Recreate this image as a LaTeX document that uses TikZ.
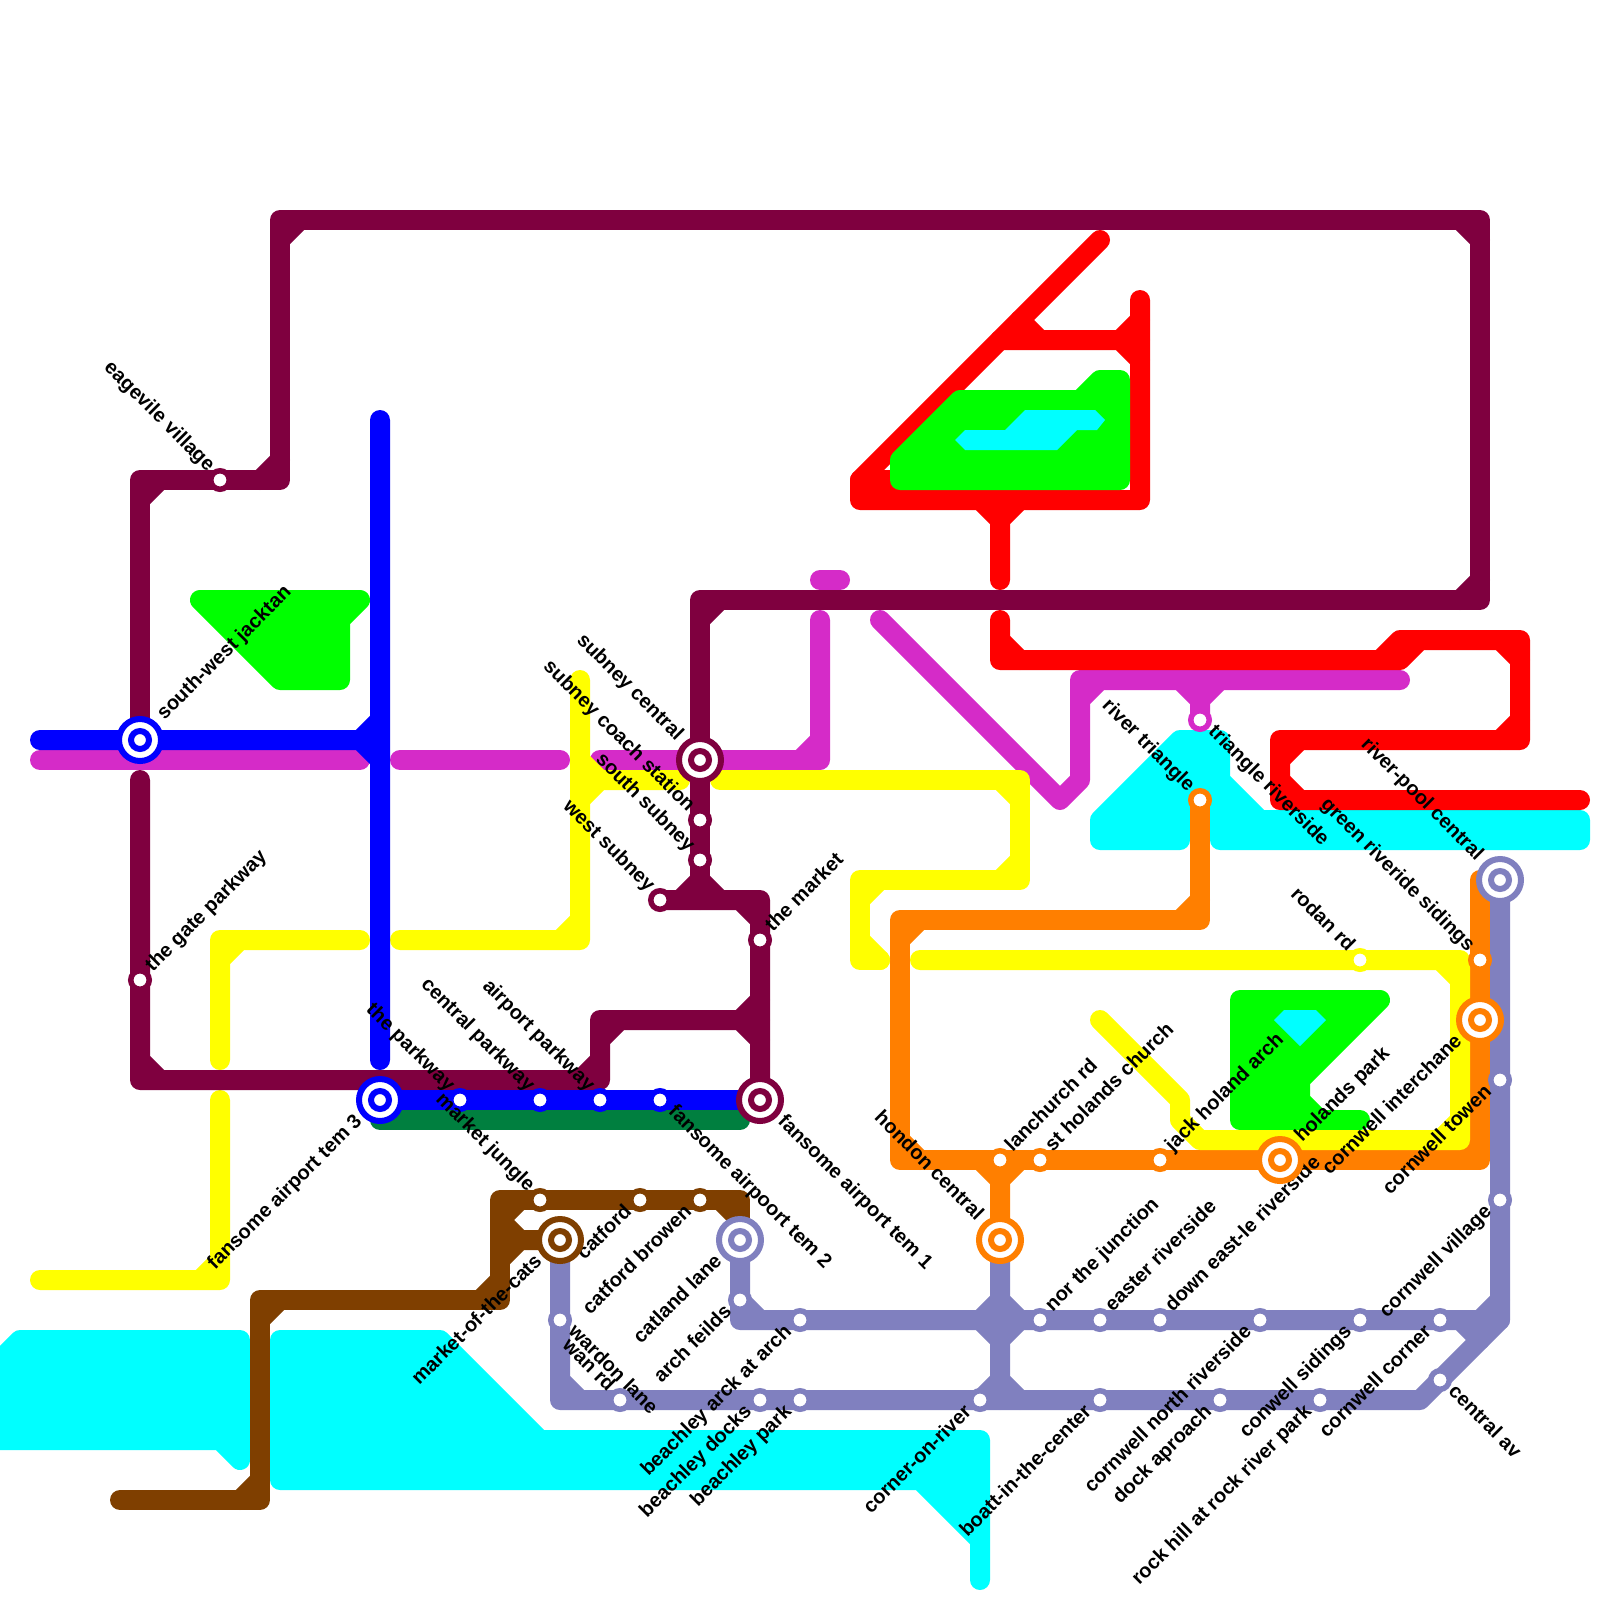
\documentclass[tikz,border=0pt]{standalone}
\usepackage{fontspec}
\setmainfont{Liberation Sans}
\definecolor{maroonln}{HTML}{7F003F}
\definecolor{magentaln}{HTML}{D52BC8}
\definecolor{brownln}{HTML}{7F3F00}
\definecolor{orangeln}{HTML}{FF7F00}
\definecolor{periln}{HTML}{8080BF}
\definecolor{dkgreenln}{HTML}{007F3F}
\definecolor{redln}{HTML}{FF0000}
\definecolor{blueln}{HTML}{0000FF}
\definecolor{yellowln}{HTML}{FFFF00}
\definecolor{riverc}{HTML}{00FFFF}
\definecolor{parkc}{HTML}{00FF00}
\tikzset{
  metroline/.style={line width=0.5cm, line cap=round, line join=round},
  area/.style={fill=#1, draw=#1, line width=0.5cm, line join=round},
  stopdot/.style={circle, fill=white, draw=#1, line width=0.1375cm, minimum size=0.4625cm, inner sep=0pt, outer sep=0pt},
  hubout/.style={circle, fill=white, draw=#1, line width=0.15cm, minimum size=1.05cm, inner sep=0pt, outer sep=0pt},
  hubin/.style={circle, fill=white, draw=#1, line width=0.15cm, minimum size=0.45cm, inner sep=0pt, outer sep=0pt},
  stoptext/.style={font=\fontsize{14.23}{16}\selectfont\bfseries, text=black, inner ysep=0pt, inner xsep=0.36cm, outer sep=0pt, text height=0.74em, text depth=0.21em},
  lblur/.style={stoptext, rotate=45, anchor=west},
  lbldr/.style={stoptext, rotate=-45, anchor=west},
  lblul/.style={stoptext, rotate=-45, anchor=east},
  lbldl/.style={stoptext, rotate=45, anchor=east},
}
\begin{document}
\begin{tikzpicture}[x=0.5cm, y=-0.5cm]
  \useasboundingbox (0,0) rectangle (80,80);
  \clip (0,0) rectangle (80,80);

  % 川
  \path[area=riverc] (1,67) -- (12,67) -- (12,73) -- (11,72) -- (-1,72) -- (-1,69) -- cycle;
  \path[area=riverc] (14,67) -- (22,67) -- (27,72) -- (49,72) -- (49,79) -- (49,77) -- (46,74) -- (14,74) -- cycle;
  \path[area=riverc] (55,41) -- (59,37) -- (61,37) -- (61,39) -- (63,41) -- (79,41) -- (79,42) -- (61,42) -- (61,40) -- (59,40) -- (59,42) -- (55,42) -- cycle;

  % マゼンタ線
  \draw[metroline, magentaln] (2,38) -- (18,38);
  \draw[metroline, magentaln] (20,38) -- (28,38);
  \draw[metroline, magentaln] (30,38) -- (41,38) -- (41,31) (40,38) -- (41,37);
  \draw[metroline, magentaln] (41,29) -- (42,29);
  \draw[metroline, magentaln] (44,31) -- (53,40) -- (54,39) -- (54,34) -- (70,34) (54,35) -- (55,34);
  \draw[metroline, magentaln] (60,34) -- (60,36) (59,34) -- (60,35) -- (61,34);

  % 緑の線
  \draw[metroline, dkgreenln] (19,56) -- (37,56);

  % 赤線
  \draw[metroline, redln] (55,12) -- (43,24) -- (43,25) -- (57,25) -- (57,15);
  \fill[redln] (43,24) rectangle (45,25);
  \draw[metroline, redln] (43,24) -- (45,24);
  \draw[metroline, redln] (50,17) -- (57,17) (51,16) -- (52,17) (56,17) -- (57,16) (56,17) -- (57,18);
  \draw[metroline, redln] (50,25) -- (50,29) (49,25) -- (50,26) -- (51,25);
  \draw[metroline, redln] (50,31) -- (50,33) -- (70,33) -- (71,32) (69,33) -- (70,32) -- (76,32) -- (76,37) -- (64,37) -- (64,40) -- (79,40);
  \draw[metroline, redln] (50,32) -- (51,33) (75,32) -- (76,33) (76,36) -- (75,37) (65,37) -- (64,38) (64,39) -- (65,40);

  % 公園
  \path[area=parkc] (10,30) -- (18,30) -- (17,31) -- (17,34) -- (14,34) -- cycle;
  \path[area=parkc] (45,24) -- (56,24) -- (56,19) -- (55,19) -- (54,20) -- (48,20) -- (45,23) -- cycle;
  \path[area=parkc] (62,50) -- (69,50) -- (65,54) -- (65,55) -- (66,56) -- (68,56) -- (62,56) -- cycle;

  % 公園の中の池
  \fill[riverc] (47.75,22) -- (48.25,21.5) -- (50.25,21.5) -- (51.25,20.5) -- (54.75,20.5) -- (55.25,21) -- (54.85,21.5) -- (53.85,21.5) -- (52.85,22.5) -- (48.25,22.5) -- cycle;
  \fill[riverc] (63.7,51) -- (64.2,50.5) -- (65.8,50.5) -- (66.3,51) -- (65,52.3) -- cycle;

  % 茶色線
  \draw[metroline, brownln] (6,75) -- (13,75) -- (13,65) -- (25,65) -- (25,60) -- (37,60) -- (37,62);
  \draw[metroline, brownln] (12,75) -- (13,74) (13,66) -- (14,65) (24,65) -- (25,64) (36,60) -- (37,61);
  \draw[metroline, brownln] (25,62) -- (28,62) (26,60) -- (25,61) -- (26,62) -- (25,63);

  % オレンジ線
  \draw[metroline, orangeln] (60,40) -- (60,46) -- (45,46) -- (45,58) -- (74,58) -- (74,44);
  \draw[metroline, orangeln] (59,46) -- (60,45) (45,47) -- (46,46) (45,57) -- (46,58) (73,58) -- (74,57);
  \draw[metroline, orangeln] (50,58) -- (50,62) (49,58) -- (50,59) -- (51,58);

  % 黄色線
  \draw[metroline, yellowln] (2,64) -- (11,64) -- (11,55) (10,64) -- (11,63);
  \draw[metroline, yellowln] (11,53) -- (11,47) -- (18,47) (11,48) -- (12,47);
  \draw[metroline, yellowln] (20,47) -- (29,47) -- (29,34) (28,47) -- (29,46);
  \draw[metroline, yellowln] (29,39) -- (34,39) (29,40) -- (30,39) -- (29,38);
  \draw[metroline, yellowln] (36,39) -- (51,39) -- (51,44) -- (43,44) -- (43,48) -- (44,48);
  \draw[metroline, yellowln] (50,39) -- (51,40) (51,43) -- (50,44) (44,44) -- (43,45) (43,47) -- (44,48);
  \draw[metroline, yellowln] (46,48) -- (73,48) -- (73,57) -- (60,57) -- (59,56) -- (59,55) -- (55,51);
  \draw[metroline, yellowln] (72,48) -- (73,49) (73,56) -- (72,57);

  % 紫線
  \draw[metroline, periln] (75,44) -- (75,66) -- (71,70) -- (28,70) -- (28,62) (28,69) -- (29,70);
  \draw[metroline, periln] (37,62) -- (37,66) -- (75,66) (37,65) -- (38,66) (74,66) -- (75,65) (73,66) -- (74,67);
  \draw[metroline, periln] (50,62) -- (50,70) (49,66) -- (50,65) -- (51,66) -- (50,67) -- (49,66) (49,70) -- (50,69) -- (51,70);

  % 栗色線
  \draw[metroline, maroonln] (7,37) -- (7,24) -- (14,24) -- (14,11) -- (74,11) -- (74,30) -- (35,30) -- (35,45);
  \draw[metroline, maroonln] (7,25) -- (8,24) (13,24) -- (14,23) (14,12) -- (15,11) (73,11) -- (74,12) (74,29) -- (73,30) (36,30) -- (35,31);
  \draw[metroline, maroonln] (33,45) -- (38,45) -- (38,55) (34,45) -- (35,44) -- (36,45) (37,45) -- (38,46);
  \draw[metroline, maroonln] (38,51) -- (30,51) -- (30,54) -- (7,54) -- (7,39) (38,50) -- (37,51) -- (38,52) (30,52) -- (31,51) (29,54) -- (30,53) (7,53) -- (8,54);

  % 青線
  \draw[metroline, blueln] (2,37) -- (19,37) (19,21) -- (19,53) (18,37) -- (19,36) (18,37) -- (19,38);
  \draw[metroline, blueln] (19,55) -- (38,55);

  % 小さい駅
  \foreach \col/\cx/\cy/\pos/\txt in {
    maroonln/11/24/lblul/eagevile village,
    maroonln/7/49/lblur/the gate parkway,
    maroonln/35/41/lblul/subney coach station,
    maroonln/35/43/lblul/south subney,
    maroonln/33/45/lblul/west subney,
    maroonln/38/47/lblur/the market,
    blueln/23/55/lblul/the parkway,
    blueln/27/55/lblul/central parkway,
    blueln/30/55/lblul/airport parkway,
    blueln/33/55/lbldr/fansome airpoort tem 2,
    brownln/27/60/lblul/market jungle,
    brownln/32/60/lbldl/catford,
    brownln/35/60/lbldl/catford browen,
    magentaln/60/36/lbldr/triangle riverside,
    orangeln/60/40/lblul/river triangle,
    orangeln/50/58/lblur/lanchurch rd,
    orangeln/52/58/lblur/st holands church,
    orangeln/58/58/lblur/jack holand arch,
    orangeln/74/48/lblul/green riveride sidings,
    yellowln/68/48/lblul/rodan rd,
    periln/75/54/lbldl/cornwell towen,
    periln/75/60/lbldl/cornwell village,
    periln/72/69/lbldr/central av,
    periln/72/66/lbldl/cornwell corner,
    periln/68/66/lbldl/conwell sidings,
    periln/63/66/lbldl/cornwell north riverside,
    periln/58/66/lblur/down east-le riverside,
    periln/55/66/lblur/easter riverside,
    periln/52/66/lblur/nor the junction,
    periln/40/66/lbldl/beachley arck at arch,
    periln/37/65/lbldl/arch feilds,
    periln/28/66/lbldr/wardon lane,
    periln/31/70/lblul/wan rd,
    periln/38/70/lbldl/beachley docks,
    periln/40/70/lbldl/beachley park,
    periln/49/70/lbldl/corner-on-river,
    periln/55/70/lbldl/boatt-in-the-center,
    periln/61/70/lbldl/dock aproach,
    periln/66/70/lbldl/rock hill at rock river park
  } {
    \node[stopdot=\col] (stop\cx y\cy) at (\cx,\cy) {};
    \node[\pos] (name\cx y\cy) at (stop\cx y\cy.center) {\txt};
  }

  % 乗換駅
  \foreach \col/\cx/\cy/\pos/\gap/\txt in {
    blueln/7/37/lblur/0.78/south-west jacktan,
    blueln/19/55/lbldl/0.7/fansome airport tem 3,
    maroonln/35/38/lblul/0.76/subney central,
    maroonln/38/55/lbldr/0.7/fansome airport tem 1,
    brownln/28/62/lbldl/0.7/market-of-the-cats,
    periln/37/62/lbldl/0.7/catland lane,
    periln/75/44/lblul/0.76/river-pool central,
    orangeln/50/62/lblul/0.76/hondon central,
    orangeln/64/58/lblur/0.7/holands park,
    orangeln/74/51/lbldl/0.7/cornwell interchane
  } {
    \node[hubout=\col] (hub\cx y\cy) at (\cx,\cy) {};
    \node[hubin=\col] (hubin\cx y\cy) at (\cx,\cy) {};
    \node[\pos, inner xsep=\gap cm] (name\cx y\cy) at (hub\cx y\cy.center) {\txt};
  }
\end{tikzpicture}
\end{document}
